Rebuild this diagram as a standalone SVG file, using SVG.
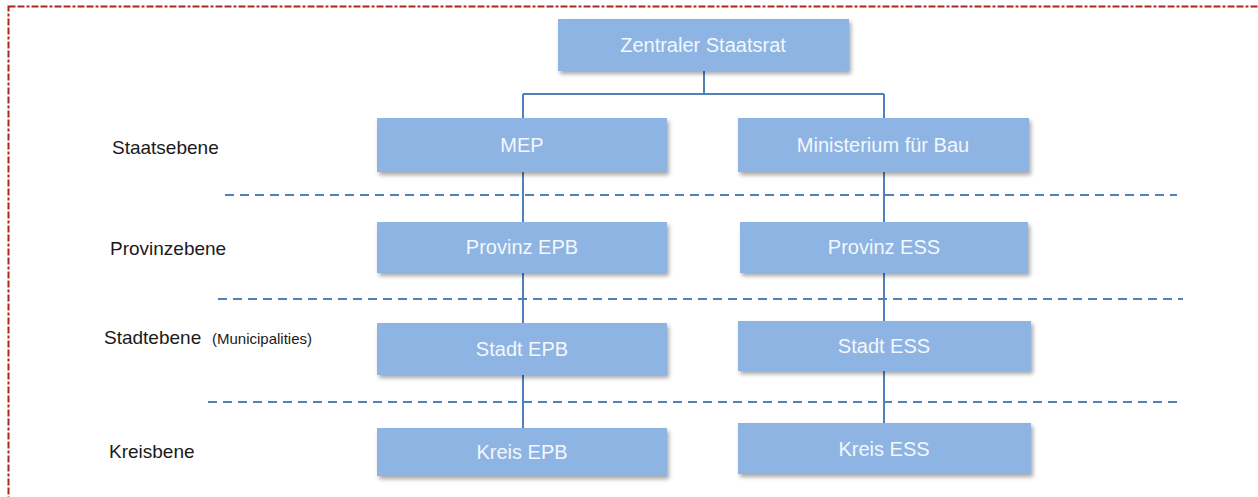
<svg xmlns="http://www.w3.org/2000/svg" width="1258" height="497" viewBox="0 0 1258 497">
<defs>
<filter id="sh" x="-5%" y="-10%" width="115%" height="140%">
<feGaussianBlur in="SourceAlpha" stdDeviation="2"/>
<feOffset dx="2" dy="3" result="b"/>
<feComponentTransfer><feFuncA type="linear" slope="0.35"/></feComponentTransfer>
<feMerge><feMergeNode/><feMergeNode in="SourceGraphic"/></feMerge>
</filter>
</defs>
<style>
.box{fill:#8EB4E3;filter:url(#sh)}
.bt{font-family:"Liberation Sans",Arial,sans-serif;font-size:20px;fill:#F4F7FB;text-anchor:middle}
.lb{font-family:"Liberation Sans",Arial,sans-serif;font-size:19px;fill:#1a1a1a}
.sm{font-family:"Liberation Sans",Arial,sans-serif;font-size:15px;fill:#1a1a1a}
.con{stroke:#4F81BD;stroke-width:2;fill:none}
.dash{stroke:#4F81BD;stroke-width:2;stroke-dasharray:9,6;fill:none}
</style>
<rect x="8.5" y="6.5" width="1262" height="500" fill="none" stroke="#A92A1C" stroke-width="2" stroke-dasharray="7,2,7,2,3,2"/>
<g id="levels">
<line class="dash" x1="225" y1="195" x2="1177" y2="195"/>
<line class="dash" x1="218" y1="299" x2="1183" y2="299"/>
<line class="dash" x1="208" y1="402" x2="1180" y2="402"/>
</g>
<g id="connectors">
<path class="con" d="M704 71 V94 M523 94 H884 M523 94 V430 M884 94 V425"/>
</g>
<g id="labels">
<text class="lb" x="112" y="154">Staatsebene</text>
<text class="lb" x="110" y="255">Provinzebene</text>
<text class="lb" x="104" y="344">Stadtebene</text>
<text class="sm" x="212" y="344">(Municipalities)</text>
<text class="lb" x="109" y="458">Kreisbene</text>
</g>
<g id="n-zentral"><rect class="box" x="558" y="19" width="291" height="52"/><text class="bt" x="703" y="52">Zentraler Staatsrat</text></g>
<g id="n-mep"><rect class="box" x="377" y="118" width="290" height="54"/><text class="bt" x="522" y="152">MEP</text></g>
<g id="n-min"><rect class="box" x="738" y="118" width="291" height="54"/><text class="bt" x="883" y="152">Ministerium für Bau</text></g>
<g id="n-provepb"><rect class="box" x="377" y="222" width="290" height="51"/><text class="bt" x="522" y="254">Provinz EPB</text></g>
<g id="n-provess"><rect class="box" x="740" y="222" width="288" height="51"/><text class="bt" x="884" y="254">Provinz ESS</text></g>
<g id="n-stadtepb"><rect class="box" x="377" y="323" width="290" height="52"/><text class="bt" x="522" y="356">Stadt EPB</text></g>
<g id="n-stadtess"><rect class="box" x="738" y="321" width="293" height="50"/><text class="bt" x="884" y="353">Stadt ESS</text></g>
<g id="n-kreisepb"><rect class="box" x="377" y="428" width="290" height="48"/><text class="bt" x="522" y="459">Kreis EPB</text></g>
<g id="n-kreisess"><rect class="box" x="738" y="423" width="293" height="51"/><text class="bt" x="884" y="456">Kreis ESS</text></g>
</svg>
